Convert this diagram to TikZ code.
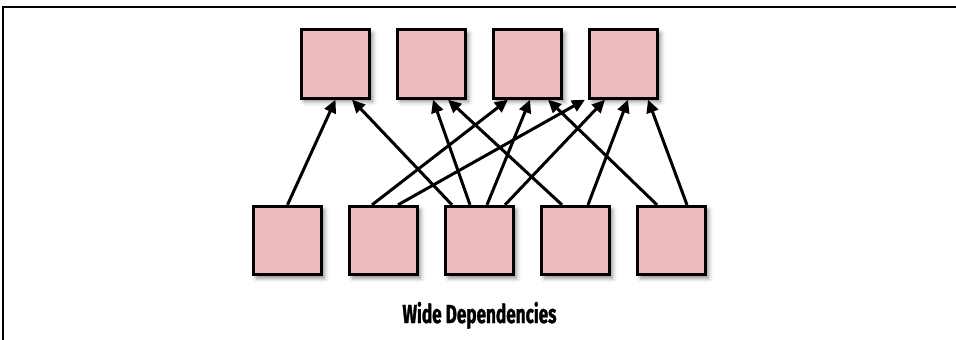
\documentclass[tikz,border=0pt]{standalone}
\usepackage{fontspec}
\newfontfamily\capfont[FakeStretch=0.66,FakeBold=1.2]{Fira Sans}
\usetikzlibrary{arrows.meta,shadows.blur}
\definecolor{boxpink}{RGB}{236,188,191}
\begin{document}
\begin{tikzpicture}[x=1pt,y=-1pt,
  partbox/.style={draw=black, line width=2.8pt, fill=boxpink, minimum width=68.5pt, minimum height=68.5pt, inner sep=0pt,
    blur shadow={shadow xshift=3pt, shadow yshift=-3.5pt, shadow blur radius=4pt, shadow opacity=45}},
  dep/.style={line width=3pt, -{Triangle[length=13pt,width=12pt]}},
  frameline/.style={line width=1.6pt}]
\useasboundingbox (0,0) rectangle (956,340);
\draw[frameline] (3,340) -- (3,7) -- (956,7);
% top row
\node[partbox] (t1) at (335.5,64) {};
\node[partbox] (t2) at (431.5,64) {};
\node[partbox] (t3) at (527.5,64) {};
\node[partbox] (t4) at (623.5,64) {};
% bottom row
\node[partbox] (b1) at (287.5,240.5) {};
\node[partbox] (b2) at (383.5,240.5) {};
\node[partbox] (b3) at (479.5,240.5) {};
\node[partbox] (b4) at (575.5,240.5) {};
\node[partbox] (b5) at (671.5,240.5) {};
% dependencies
\draw[dep] (b1.north) -- (t1.south);
\draw[dep] ([xshift=-27.5pt]b3.north) -- ([xshift=16.5pt]t1.south);
\draw[dep] ([xshift=-9.5pt]b3.north) -- ([xshift=1.5pt]t2.south);
\draw[dep] ([xshift=-13.5pt]b4.north) -- ([xshift=16.5pt]t2.south);
\draw[dep] ([xshift=-11.5pt]b2.north) -- ([xshift=-19.5pt]t3.south);
\draw[dep] ([xshift=7.5pt]b3.north) -- ([xshift=2.5pt]t3.south);
\draw[dep] ([xshift=-14.5pt]b5.north) -- ([xshift=20.5pt]t3.south);
\draw[dep] ([xshift=14.5pt]b2.north) -- ([xshift=-38.5pt]t4.south);
\draw[dep] ([xshift=25.5pt]b3.north) -- ([xshift=-18.5pt]t4.south);
\draw[dep] ([xshift=12.5pt]b4.north) -- ([xshift=4.5pt]t4.south);
\draw[dep] ([xshift=15.5pt]b5.north) -- ([xshift=24.5pt]t4.south);
% caption
\node[anchor=base, inner sep=0pt, font={\capfont\bfseries\fontsize{26}{30}\selectfont}] (cap) at (479.5,323) {Wide Dependencies};
\end{tikzpicture}
\end{document}
